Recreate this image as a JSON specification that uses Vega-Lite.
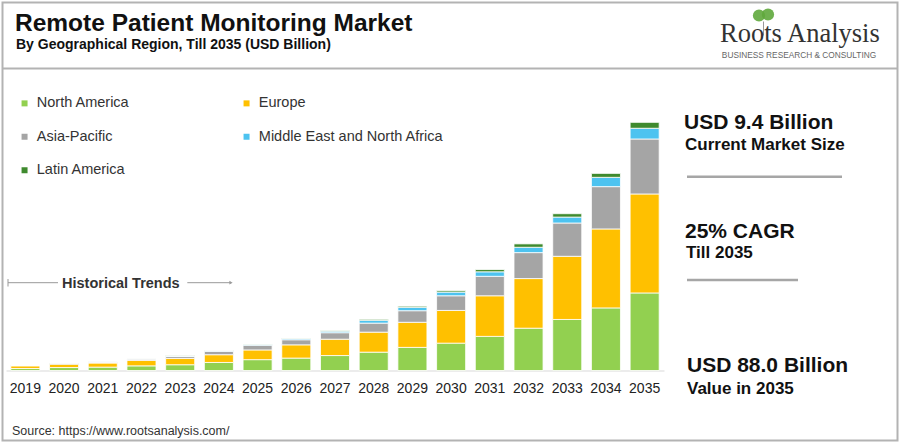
{
  "$schema": "https://vega.github.io/schema/vega-lite/v6.json",
  "width": 658,
  "height": 282,
  "autosize": {"type": "none"},
  "padding": {"left": 6, "top": 88.5, "right": 236, "bottom": 72.5},
  "background": "white",
  "config": {"view": {"stroke": null}, "font": "Liberation Sans"},
  "datasets": {
    "one": [{}],
    "market": [
      {"year": "2019", "North America": 0.7, "Europe": 0.95, "Asia-Pacific": 0.15, "Middle East and North Africa": 0.05, "Latin America": 0.02},
      {"year": "2020", "North America": 1.05, "Europe": 1.2, "Asia-Pacific": 0.2, "Middle East and North Africa": 0.06, "Latin America": 0.03},
      {"year": "2021", "North America": 1.2, "Europe": 1.45, "Asia-Pacific": 0.3, "Middle East and North Africa": 0.08, "Latin America": 0.03},
      {"year": "2022", "North America": 1.65, "Europe": 1.95, "Asia-Pacific": 0.45, "Middle East and North Africa": 0.1, "Latin America": 0.04},
      {"year": "2023", "North America": 2.05, "Europe": 2.25, "Asia-Pacific": 0.7, "Middle East and North Africa": 0.15, "Latin America": 0.05},
      {"year": "2024", "North America": 2.85, "Europe": 2.75, "Asia-Pacific": 1.2, "Middle East and North Africa": 0.2, "Latin America": 0.08},
      {"year": "2025", "North America": 3.85, "Europe": 3.45, "Asia-Pacific": 1.65, "Middle East and North Africa": 0.32, "Latin America": 0.13},
      {"year": "2026", "North America": 4.4, "Europe": 4.7, "Asia-Pacific": 1.8, "Middle East and North Africa": 0.4, "Latin America": 0.15},
      {"year": "2027", "North America": 5.3, "Europe": 5.8, "Asia-Pacific": 2.3, "Middle East and North Africa": 0.55, "Latin America": 0.2},
      {"year": "2028", "North America": 6.5, "Europe": 7.1, "Asia-Pacific": 3.2, "Middle East and North Africa": 1.0, "Latin America": 0.35},
      {"year": "2029", "North America": 8.2, "Europe": 8.9, "Asia-Pacific": 4.1, "Middle East and North Africa": 1.2, "Latin America": 0.4},
      {"year": "2030", "North America": 9.7, "Europe": 11.6, "Asia-Pacific": 5.2, "Middle East and North Africa": 1.3, "Latin America": 0.5},
      {"year": "2031", "North America": 12.1, "Europe": 14.4, "Asia-Pacific": 6.9, "Middle East and North Africa": 1.6, "Latin America": 0.8},
      {"year": "2032", "North America": 15.0, "Europe": 17.6, "Asia-Pacific": 9.2, "Middle East and North Africa": 1.9, "Latin America": 1.2},
      {"year": "2033", "North America": 18.1, "Europe": 22.4, "Asia-Pacific": 11.8, "Middle East and North Africa": 2.1, "Latin America": 1.2},
      {"year": "2034", "North America": 22.2, "Europe": 28.0, "Asia-Pacific": 15.0, "Middle East and North Africa": 3.3, "Latin America": 1.4},
      {"year": "2035", "North America": 27.5, "Europe": 35.1, "Asia-Pacific": 19.5, "Middle East and North Africa": 3.8, "Latin America": 2.1}
    ]
  },
  "layer": [
    {
      "data": {"name": "one"},
      "mark": {"type": "rect", "x": -3.5, "x2": 891.5, "y": -86, "y2": 352, "fillOpacity": 0, "stroke": "#b3b3b3", "strokeWidth": 2}
    },
    {
      "data": {"name": "one"},
      "mark": {"type": "rule", "stroke": "#b3b3b3", "strokeWidth": 2},
      "encoding": {"x": {"value": -3.5}, "x2": {"value": 891.5}, "y": {"value": -20}, "y2": {"value": -20}}
    },
    {
      "data": {"name": "market"},
      "transform": [
        {"fold": ["North America", "Europe", "Asia-Pacific", "Middle East and North Africa", "Latin America"], "as": ["region", "value"]},
        {"calculate": "indexof(['North America', 'Europe', 'Asia-Pacific', 'Middle East and North Africa', 'Latin America'], datum.region)", "as": "rank"}
      ],
      "mark": {"type": "bar", "stroke": "white", "strokeWidth": 0.8},
      "encoding": {
        "x": {
          "field": "year", "type": "ordinal",
          "scale": {"paddingInner": 0.25, "paddingOuter": 0.125},
          "axis": {"title": null, "labelAngle": 0, "labelFontSize": 14, "labelColor": "#222", "ticks": false, "tickSize": 0, "labelPadding": 11, "domainColor": "#d9d9d9", "domainWidth": 1, "grid": false}
        },
        "y": {"field": "value", "type": "quantitative", "stack": "zero", "scale": {"domain": [0, 100]}, "axis": null},
        "color": {
          "field": "region", "type": "nominal",
          "scale": {
            "domain": ["North America", "Europe", "Asia-Pacific", "Middle East and North Africa", "Latin America"],
            "range": ["#92D050", "#FFC000", "#A5A5A5", "#4DC3F0", "#3F8A2E"]
          },
          "legend": {
            "title": null, "orient": "none", "direction": "horizontal", "legendX": 11.3, "legendY": 7.5, "columns": 2,
            "columnPadding": 109, "rowPadding": 18.5, "symbolType": "square", "symbolSize": 36,
            "symbolStrokeWidth": 0, "labelFontSize": 14.5, "labelColor": "#333", "labelOffset": 5,
            "padding": 0, "labelLimit": 300
          }
        },
        "order": {"field": "rank", "type": "quantitative"}
      }
    },
    {
      "data": {"name": "one"},
      "mark": {"type": "text", "text": "Remote Patient Monitoring Market", "x": 9, "y": -57.5, "align": "left", "baseline": "alphabetic", "fontSize": 24.5, "fontWeight": "bold", "color": "#111"}
    },
    {
      "data": {"name": "one"},
      "mark": {"type": "text", "text": "By Geographical Region, Till 2035 (USD Billion)", "x": 10, "y": -39.5, "align": "left", "baseline": "alphabetic", "fontSize": 14, "fontWeight": "bold", "color": "#111"}
    },
    {
      "data": {"name": "one"},
      "mark": {"type": "circle", "x": 753, "y": -73, "size": 150, "color": "#5FA83C", "opacity": 0.9}
    },
    {
      "data": {"name": "one"},
      "mark": {"type": "circle", "x": 762, "y": -74, "size": 150, "color": "#5FA83C", "opacity": 0.9}
    },
    {
      "data": {"name": "one"},
      "mark": {"type": "rule", "stroke": "#999", "strokeWidth": 1},
      "encoding": {"x": {"value": 757.5}, "x2": {"value": 757.5}, "y": {"value": -67}, "y2": {"value": -53}}
    },
    {
      "data": {"name": "one"},
      "mark": {"type": "text", "text": "Roots Analysis", "x": 714, "y": -46.5, "align": "left", "baseline": "alphabetic", "font": "Liberation Serif", "fontSize": 26.5, "color": "#333"}
    },
    {
      "data": {"name": "one"},
      "mark": {"type": "text", "text": "BUSINESS RESEARCH & CONSULTING", "x": 793, "y": -31, "align": "center", "baseline": "alphabetic", "fontSize": 8.3, "color": "#666"}
    },
    {
      "data": {"name": "one"},
      "mark": {"type": "text", "text": "USD 9.4 Billion", "x": 678, "y": 40.8, "align": "left", "baseline": "alphabetic", "fontSize": 21, "fontWeight": "bold", "color": "#111"}
    },
    {
      "data": {"name": "one"},
      "mark": {"type": "text", "text": "Current Market Size", "x": 679, "y": 61.5, "align": "left", "baseline": "alphabetic", "fontSize": 17, "fontWeight": "bold", "color": "#111"}
    },
    {
      "data": {"name": "one"},
      "mark": {"type": "rule", "stroke": "#a6a6a6", "strokeWidth": 2.5},
      "encoding": {"x": {"value": 681}, "x2": {"value": 836}, "y": {"value": 88.2}, "y2": {"value": 88.2}}
    },
    {
      "data": {"name": "one"},
      "mark": {"type": "text", "text": "25% CAGR", "x": 679, "y": 149.2, "align": "left", "baseline": "alphabetic", "fontSize": 21, "fontWeight": "bold", "color": "#111"}
    },
    {
      "data": {"name": "one"},
      "mark": {"type": "text", "text": "Till 2035", "x": 680, "y": 169.8, "align": "left", "baseline": "alphabetic", "fontSize": 17, "fontWeight": "bold", "color": "#111"}
    },
    {
      "data": {"name": "one"},
      "mark": {"type": "rule", "stroke": "#a6a6a6", "strokeWidth": 2.5},
      "encoding": {"x": {"value": 681}, "x2": {"value": 792}, "y": {"value": 191.5}, "y2": {"value": 191.5}}
    },
    {
      "data": {"name": "one"},
      "mark": {"type": "text", "text": "USD 88.0 Billion", "x": 681, "y": 283.8, "align": "left", "baseline": "alphabetic", "fontSize": 21, "fontWeight": "bold", "color": "#111"}
    },
    {
      "data": {"name": "one"},
      "mark": {"type": "text", "text": "Value in 2035", "x": 681, "y": 305.8, "align": "left", "baseline": "alphabetic", "fontSize": 17, "fontWeight": "bold", "color": "#111"}
    },
    {
      "data": {"name": "one"},
      "mark": {"type": "text", "text": "Source: https://www.rootsanalysis.com/", "x": 6, "y": 346.5, "align": "left", "baseline": "alphabetic", "fontSize": 12.5, "color": "#333"}
    },
    {
      "data": {"name": "one"},
      "mark": {"type": "text", "text": "Historical Trends", "x": 56, "y": 199.2, "align": "left", "baseline": "alphabetic", "fontSize": 14.5, "fontWeight": "bold", "color": "#333"}
    },
    {
      "data": {"name": "one"},
      "mark": {"type": "rule", "stroke": "#999", "strokeWidth": 1},
      "encoding": {"x": {"value": 2}, "x2": {"value": 52}, "y": {"value": 194.2}, "y2": {"value": 194.2}}
    },
    {
      "data": {"name": "one"},
      "mark": {"type": "rule", "stroke": "#999", "strokeWidth": 1},
      "encoding": {"x": {"value": 2}, "x2": {"value": 2}, "y": {"value": 190.5}, "y2": {"value": 198}}
    },
    {
      "data": {"name": "one"},
      "mark": {"type": "rule", "stroke": "#999", "strokeWidth": 1},
      "encoding": {"x": {"value": 181.3}, "x2": {"value": 225}, "y": {"value": 194.2}, "y2": {"value": 194.2}}
    },
    {
      "data": {"name": "one"},
      "mark": {"type": "point", "shape": "triangle-right", "x": 225, "y": 194.2, "size": 14, "filled": true, "color": "#999", "opacity": 1}
    }
  ]
}
